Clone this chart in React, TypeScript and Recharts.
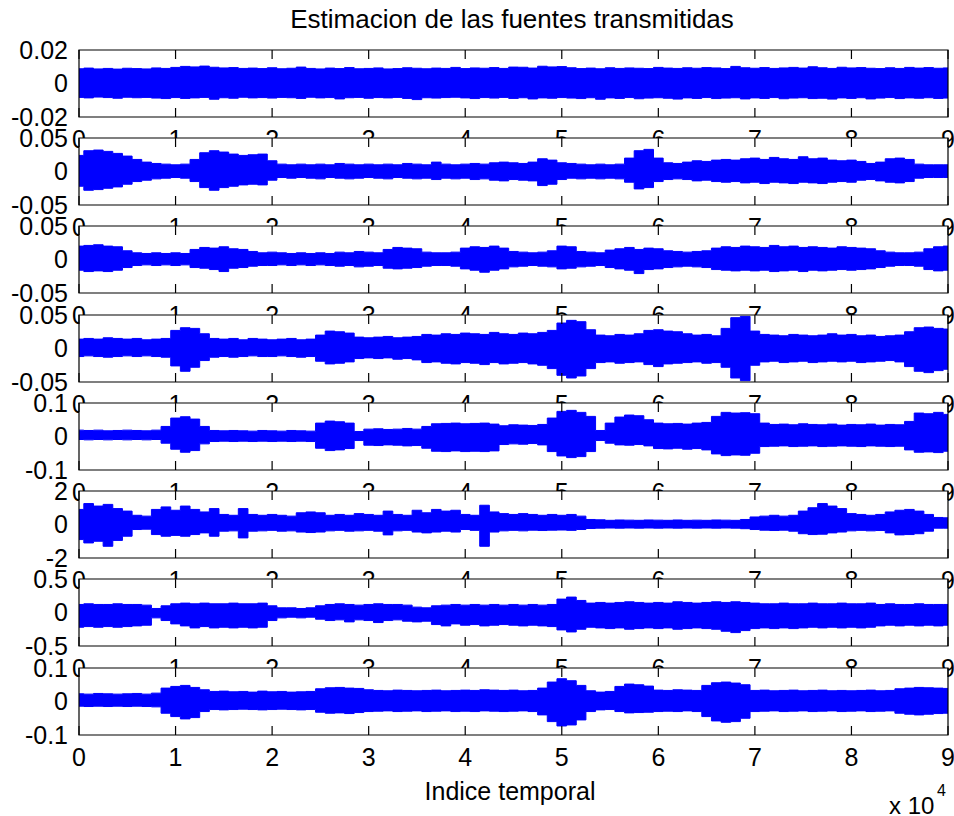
import React from "react"
import { ComposedChart, Area, XAxis, YAxis, CartesianGrid, ReferenceArea } from "recharts"

// envelope of each estimated source, read every 1000 samples (0 .. 90000)
const sampleIdx = Array.from({ length: 91 }, (_, k) => k * 1000)
const xTicks = [0, 10000, 20000, 30000, 40000, 50000, 60000, 70000, 80000, 90000]
const yLimits = [0.02, 0.05, 0.05, 0.05, 0.1, 2, 0.5, 0.1]

const hi1 = [0.0088,0.0092,0.0087,0.0090,0.0086,0.0091,0.0089,0.0087,0.0093,0.0090,
  0.0096,0.0102,0.0099,0.0104,0.0097,0.0093,0.0095,0.0090,0.0092,0.0089,
  0.0094,0.0088,0.0091,0.0098,0.0090,0.0087,0.0092,0.0089,0.0095,0.0088,
  0.0090,0.0093,0.0087,0.0089,0.0094,0.0091,0.0088,0.0092,0.0090,0.0096,
  0.0089,0.0093,0.0091,0.0095,0.0090,0.0098,0.0097,0.0092,0.0103,0.0099,
  0.0101,0.0094,0.0089,0.0092,0.0088,0.0094,0.0090,0.0093,0.0091,0.0089,
  0.0096,0.0092,0.0090,0.0094,0.0091,0.0095,0.0093,0.0089,0.0102,0.0094,
  0.0091,0.0095,0.0090,0.0093,0.0096,0.0092,0.0100,0.0094,0.0090,0.0097,
  0.0093,0.0095,0.0091,0.0089,0.0094,0.0090,0.0096,0.0092,0.0095,0.0091,0.0093]
const lo1 = [-0.0083,-0.0086,-0.0081,-0.0084,-0.0088,-0.0082,-0.0085,-0.0083,-0.0087,-0.0090,
  -0.0084,-0.0089,-0.0086,-0.0083,-0.0094,-0.0085,-0.0088,-0.0082,-0.0086,-0.0084,
  -0.0087,-0.0083,-0.0085,-0.0089,-0.0082,-0.0086,-0.0084,-0.0092,-0.0085,-0.0083,
  -0.0088,-0.0084,-0.0086,-0.0083,-0.0089,-0.0096,-0.0085,-0.0087,-0.0084,-0.0082,
  -0.0086,-0.0090,-0.0084,-0.0087,-0.0083,-0.0089,-0.0085,-0.0092,-0.0086,-0.0088,
  -0.0084,-0.0087,-0.0090,-0.0085,-0.0094,-0.0086,-0.0089,-0.0084,-0.0091,-0.0087,
  -0.0085,-0.0088,-0.0093,-0.0086,-0.0089,-0.0084,-0.0090,-0.0087,-0.0085,-0.0092,
  -0.0086,-0.0089,-0.0084,-0.0091,-0.0087,-0.0085,-0.0090,-0.0088,-0.0093,-0.0086,
  -0.0089,-0.0085,-0.0092,-0.0087,-0.0084,-0.0090,-0.0086,-0.0088,-0.0085,-0.0089,-0.0087]

const hi2 = [0.024,0.031,0.032,0.030,0.027,0.023,0.018,0.014,0.012,0.011,
  0.010,0.011,0.018,0.028,0.031,0.029,0.026,0.024,0.025,0.026,
  0.016,0.011,0.010,0.011,0.010,0.011,0.010,0.012,0.011,0.010,
  0.011,0.010,0.011,0.010,0.012,0.011,0.010,0.014,0.011,0.010,
  0.011,0.012,0.011,0.013,0.014,0.013,0.012,0.014,0.019,0.017,
  0.013,0.012,0.011,0.010,0.011,0.010,0.011,0.020,0.031,0.033,
  0.020,0.013,0.012,0.014,0.016,0.015,0.017,0.018,0.017,0.019,
  0.020,0.018,0.021,0.019,0.018,0.022,0.019,0.020,0.017,0.016,
  0.017,0.015,0.012,0.014,0.019,0.020,0.018,0.011,0.010,0.010,0.010]
const lo2 = [-0.022,-0.028,-0.027,-0.025,-0.023,-0.019,-0.015,-0.013,-0.011,-0.010,
  -0.009,-0.010,-0.015,-0.024,-0.028,-0.024,-0.022,-0.020,-0.019,-0.020,
  -0.013,-0.009,-0.010,-0.009,-0.010,-0.011,-0.009,-0.010,-0.011,-0.010,
  -0.009,-0.010,-0.011,-0.009,-0.010,-0.011,-0.010,-0.012,-0.010,-0.011,
  -0.010,-0.012,-0.011,-0.013,-0.014,-0.012,-0.013,-0.014,-0.021,-0.019,
  -0.012,-0.010,-0.011,-0.010,-0.011,-0.010,-0.011,-0.016,-0.026,-0.024,
  -0.015,-0.012,-0.011,-0.012,-0.014,-0.013,-0.015,-0.016,-0.015,-0.017,
  -0.016,-0.018,-0.016,-0.017,-0.018,-0.016,-0.017,-0.018,-0.016,-0.015,
  -0.016,-0.013,-0.012,-0.014,-0.016,-0.017,-0.015,-0.010,-0.009,-0.009,-0.009]

const hi3 = [0.020,0.021,0.022,0.020,0.019,0.013,0.010,0.009,0.010,0.009,
  0.010,0.009,0.015,0.018,0.017,0.019,0.016,0.015,0.012,0.010,
  0.011,0.010,0.009,0.010,0.009,0.010,0.009,0.011,0.010,0.012,
  0.011,0.010,0.015,0.018,0.017,0.016,0.011,0.010,0.010,0.011,
  0.017,0.019,0.018,0.020,0.017,0.012,0.011,0.010,0.011,0.013,
  0.020,0.019,0.012,0.011,0.010,0.014,0.016,0.018,0.015,0.017,
  0.016,0.013,0.012,0.011,0.012,0.013,0.017,0.019,0.018,0.020,
  0.019,0.018,0.021,0.019,0.020,0.018,0.019,0.018,0.017,0.019,
  0.018,0.017,0.016,0.013,0.011,0.010,0.010,0.011,0.016,0.019,0.020]
const lo3 = [-0.016,-0.018,-0.017,-0.018,-0.016,-0.012,-0.009,-0.008,-0.009,-0.008,
  -0.009,-0.008,-0.012,-0.013,-0.015,-0.018,-0.013,-0.012,-0.010,-0.009,
  -0.009,-0.008,-0.009,-0.008,-0.009,-0.008,-0.009,-0.010,-0.009,-0.011,
  -0.010,-0.009,-0.013,-0.014,-0.013,-0.012,-0.010,-0.009,-0.009,-0.010,
  -0.014,-0.016,-0.019,-0.016,-0.014,-0.011,-0.010,-0.009,-0.010,-0.011,
  -0.014,-0.013,-0.011,-0.010,-0.009,-0.012,-0.014,-0.016,-0.021,-0.015,
  -0.014,-0.012,-0.011,-0.010,-0.011,-0.012,-0.015,-0.016,-0.017,-0.016,
  -0.017,-0.016,-0.018,-0.017,-0.016,-0.018,-0.016,-0.017,-0.016,-0.015,
  -0.016,-0.015,-0.014,-0.012,-0.010,-0.009,-0.009,-0.010,-0.015,-0.017,-0.016]

const hi4 = [0.014,0.015,0.014,0.016,0.015,0.014,0.015,0.013,0.014,0.015,
  0.027,0.031,0.030,0.022,0.015,0.014,0.015,0.013,0.015,0.014,
  0.013,0.014,0.015,0.013,0.014,0.020,0.026,0.025,0.023,0.017,
  0.016,0.017,0.018,0.016,0.017,0.018,0.021,0.020,0.022,0.021,
  0.023,0.022,0.021,0.024,0.022,0.021,0.023,0.022,0.024,0.027,
  0.038,0.042,0.040,0.028,0.020,0.019,0.021,0.020,0.022,0.027,
  0.028,0.026,0.025,0.022,0.020,0.021,0.019,0.030,0.046,0.048,
  0.026,0.021,0.020,0.019,0.021,0.020,0.019,0.020,0.022,0.020,
  0.021,0.019,0.020,0.018,0.019,0.020,0.025,0.031,0.032,0.030,0.029]
const lo4 = [-0.012,-0.011,-0.012,-0.013,-0.012,-0.011,-0.012,-0.011,-0.012,-0.013,
  -0.026,-0.034,-0.028,-0.018,-0.013,-0.012,-0.013,-0.012,-0.011,-0.012,
  -0.012,-0.011,-0.012,-0.013,-0.012,-0.019,-0.023,-0.022,-0.020,-0.015,
  -0.014,-0.015,-0.014,-0.016,-0.015,-0.017,-0.021,-0.020,-0.022,-0.023,
  -0.021,-0.022,-0.024,-0.021,-0.023,-0.022,-0.021,-0.023,-0.025,-0.030,
  -0.040,-0.044,-0.041,-0.030,-0.021,-0.020,-0.022,-0.021,-0.020,-0.024,
  -0.027,-0.023,-0.022,-0.021,-0.020,-0.022,-0.021,-0.028,-0.044,-0.048,
  -0.025,-0.020,-0.019,-0.021,-0.020,-0.019,-0.021,-0.020,-0.019,-0.020,
  -0.019,-0.021,-0.020,-0.019,-0.018,-0.020,-0.027,-0.034,-0.036,-0.033,-0.031]

const hi5 = [0.019,0.018,0.019,0.017,0.018,0.019,0.018,0.017,0.019,0.030,
  0.055,0.059,0.052,0.030,0.018,0.017,0.018,0.017,0.016,0.018,
  0.017,0.016,0.018,0.017,0.016,0.040,0.046,0.044,0.040,0.015,
  0.022,0.023,0.021,0.022,0.024,0.022,0.030,0.038,0.039,0.040,
  0.038,0.039,0.040,0.037,0.032,0.035,0.034,0.033,0.036,0.055,
  0.075,0.078,0.072,0.060,0.018,0.040,0.058,0.064,0.062,0.050,
  0.040,0.038,0.039,0.037,0.040,0.042,0.060,0.072,0.070,0.071,
  0.068,0.040,0.036,0.037,0.035,0.038,0.036,0.035,0.037,0.034,
  0.036,0.035,0.037,0.034,0.036,0.035,0.045,0.070,0.068,0.072,0.066]
const lo5 = [-0.009,-0.010,-0.009,-0.010,-0.009,-0.010,-0.009,-0.010,-0.009,-0.020,
  -0.038,-0.047,-0.042,-0.022,-0.015,-0.014,-0.015,-0.014,-0.015,-0.014,
  -0.015,-0.014,-0.015,-0.014,-0.015,-0.035,-0.042,-0.040,-0.036,-0.012,
  -0.026,-0.027,-0.025,-0.026,-0.028,-0.027,-0.035,-0.044,-0.045,-0.043,
  -0.045,-0.044,-0.045,-0.043,-0.024,-0.022,-0.023,-0.021,-0.025,-0.045,
  -0.058,-0.063,-0.060,-0.045,-0.012,-0.020,-0.025,-0.026,-0.024,-0.028,
  -0.036,-0.037,-0.035,-0.038,-0.036,-0.040,-0.052,-0.057,-0.055,-0.056,
  -0.050,-0.030,-0.029,-0.028,-0.030,-0.029,-0.028,-0.030,-0.029,-0.028,
  -0.029,-0.030,-0.028,-0.029,-0.030,-0.029,-0.040,-0.047,-0.046,-0.048,-0.044]

const hi6 = [0.9,1.25,1.1,1.2,0.95,0.8,0.55,0.5,0.9,1.05,
  0.85,1.1,0.9,0.75,0.95,0.6,0.55,0.95,0.6,0.55,
  0.6,0.55,0.5,0.7,0.75,0.7,0.55,0.6,0.55,0.65,
  0.6,0.55,0.8,0.6,0.55,0.85,0.7,0.9,0.8,0.85,
  0.6,0.55,1.15,0.75,0.65,0.6,0.65,0.6,0.55,0.6,
  0.55,0.6,0.5,0.3,0.28,0.25,0.27,0.26,0.25,0.27,
  0.26,0.25,0.27,0.25,0.26,0.25,0.27,0.26,0.25,0.3,
  0.45,0.5,0.55,0.5,0.55,0.8,1.0,1.25,1.1,0.95,
  0.65,0.6,0.55,0.6,0.75,0.85,0.9,0.8,0.6,0.42,0.4]
const lo6 = [-0.9,-1.1,-1.0,-1.3,-0.95,-0.7,-0.3,-0.28,-0.6,-0.7,
  -0.65,-0.7,-0.6,-0.5,-0.7,-0.4,-0.38,-0.8,-0.4,-0.38,
  -0.35,-0.4,-0.38,-0.45,-0.48,-0.45,-0.38,-0.35,-0.4,-0.38,
  -0.35,-0.4,-0.62,-0.38,-0.35,-0.45,-0.5,-0.45,-0.4,-0.45,
  -0.3,-0.35,-1.3,-0.45,-0.38,-0.35,-0.38,-0.34,-0.36,-0.34,
  -0.33,-0.35,-0.3,-0.24,-0.22,-0.21,-0.22,-0.21,-0.22,-0.21,
  -0.22,-0.21,-0.22,-0.21,-0.22,-0.21,-0.22,-0.21,-0.22,-0.25,
  -0.3,-0.34,-0.36,-0.34,-0.4,-0.55,-0.6,-0.58,-0.5,-0.45,
  -0.38,-0.35,-0.38,-0.36,-0.5,-0.62,-0.6,-0.55,-0.4,-0.22,-0.22]

const hi7 = [0.12,0.13,0.12,0.12,0.13,0.12,0.12,0.11,0.06,0.10,
  0.13,0.14,0.13,0.14,0.13,0.13,0.14,0.13,0.13,0.14,
  0.10,0.07,0.07,0.06,0.07,0.10,0.12,0.13,0.12,0.11,
  0.12,0.13,0.12,0.12,0.11,0.08,0.07,0.10,0.11,0.12,
  0.11,0.12,0.11,0.12,0.11,0.12,0.11,0.12,0.11,0.12,
  0.20,0.23,0.18,0.14,0.15,0.14,0.15,0.16,0.15,0.14,
  0.15,0.14,0.16,0.15,0.14,0.15,0.16,0.15,0.16,0.15,
  0.14,0.13,0.13,0.14,0.13,0.13,0.14,0.13,0.13,0.14,
  0.13,0.13,0.14,0.12,0.13,0.12,0.12,0.13,0.12,0.12,0.12]
const lo7 = [-0.22,-0.21,-0.22,-0.21,-0.22,-0.21,-0.20,-0.19,-0.08,-0.12,
  -0.17,-0.20,-0.23,-0.21,-0.23,-0.22,-0.23,-0.22,-0.23,-0.22,
  -0.12,-0.08,-0.07,-0.08,-0.07,-0.10,-0.12,-0.11,-0.14,-0.11,
  -0.12,-0.15,-0.12,-0.11,-0.13,-0.14,-0.13,-0.18,-0.20,-0.17,
  -0.19,-0.18,-0.20,-0.19,-0.18,-0.19,-0.20,-0.19,-0.20,-0.21,
  -0.26,-0.29,-0.25,-0.22,-0.23,-0.24,-0.23,-0.25,-0.24,-0.23,
  -0.24,-0.23,-0.25,-0.24,-0.23,-0.24,-0.25,-0.28,-0.30,-0.27,
  -0.24,-0.23,-0.24,-0.23,-0.24,-0.23,-0.22,-0.23,-0.22,-0.23,
  -0.22,-0.23,-0.22,-0.20,-0.19,-0.20,-0.19,-0.20,-0.19,-0.20,-0.19]

const hi8 = [0.023,0.022,0.024,0.023,0.022,0.023,0.024,0.022,0.025,0.040,
  0.045,0.048,0.042,0.035,0.030,0.031,0.029,0.030,0.028,0.031,
  0.029,0.030,0.028,0.029,0.030,0.038,0.041,0.042,0.040,0.039,
  0.035,0.033,0.032,0.034,0.033,0.032,0.033,0.034,0.032,0.033,
  0.034,0.033,0.035,0.034,0.033,0.034,0.032,0.033,0.040,0.058,
  0.068,0.062,0.048,0.032,0.028,0.030,0.045,0.052,0.050,0.046,
  0.034,0.033,0.035,0.034,0.033,0.048,0.056,0.058,0.055,0.050,
  0.033,0.034,0.032,0.033,0.034,0.032,0.033,0.034,0.032,0.033,
  0.032,0.033,0.034,0.032,0.033,0.038,0.040,0.042,0.041,0.040,0.039]
const lo8 = [-0.014,-0.015,-0.014,-0.015,-0.014,-0.015,-0.014,-0.015,-0.016,-0.035,
  -0.045,-0.052,-0.048,-0.030,-0.024,-0.025,-0.024,-0.023,-0.024,-0.025,
  -0.024,-0.023,-0.024,-0.025,-0.024,-0.032,-0.035,-0.034,-0.036,-0.033,
  -0.030,-0.029,-0.028,-0.030,-0.029,-0.028,-0.030,-0.029,-0.028,-0.030,
  -0.029,-0.030,-0.028,-0.029,-0.030,-0.029,-0.028,-0.030,-0.040,-0.060,
  -0.073,-0.070,-0.055,-0.030,-0.025,-0.024,-0.030,-0.034,-0.033,-0.032,
  -0.030,-0.029,-0.030,-0.028,-0.030,-0.045,-0.058,-0.062,-0.060,-0.050,
  -0.030,-0.029,-0.028,-0.030,-0.029,-0.028,-0.030,-0.029,-0.028,-0.030,
  -0.029,-0.028,-0.030,-0.029,-0.028,-0.035,-0.038,-0.040,-0.038,-0.036,-0.035]

const highs = [hi1, hi2, hi3, hi4, hi5, hi6, hi7, hi8]
const lows = [lo1, lo2, lo3, lo4, lo5, lo6, lo7, lo8]

const W = 954
const H = 816
const FONT = "'Liberation Sans', Arial, Helvetica, sans-serif"
const BLUE = "#0000ff"
const plotTops = [50, 138, 226, 315, 403, 491, 579, 668]
const PLOT_H = 67
const PAD_TOP = 22
const AXIS_H = 42

function XTick(props: any) {
  const { x, y, payload } = props
  return (
    <g>
      <line x1={x} y1={y} x2={x} y2={y - 9} stroke="#000" strokeWidth={1.2} />
      <line x1={x} y1={y - PLOT_H} x2={x} y2={y - PLOT_H + 9} stroke="#000" strokeWidth={1.2} />
      <text x={x} y={y + 31} textAnchor="middle" fontSize={25} fontFamily={FONT} fill="#000">
        {payload.value / 10000}
      </text>
    </g>
  )
}

function Subplot({ idx }: { idx: number }) {
  const lim = yLimits[idx]
  const rows = sampleIdx.map((x, k) => ({ x, band: [lows[idx][k], highs[idx][k]] }))
  return (
    <div style={{ position: "absolute", left: 0, top: plotTops[idx] - PAD_TOP, width: W, height: PAD_TOP + PLOT_H + AXIS_H }}>
      <ComposedChart
        width={W}
        height={PAD_TOP + PLOT_H + AXIS_H}
        data={rows}
        margin={{ top: PAD_TOP, right: 6, left: 0, bottom: 0 }}
      >
        <CartesianGrid fill="#ffffff" horizontal={false} vertical={false} />
        <XAxis
          dataKey="x"
          type="number"
          domain={[0, 90000]}
          ticks={xTicks}
          interval={0}
          height={AXIS_H}
          axisLine={false}
          tickLine={false}
          tickSize={0}
          tickMargin={0}
          tick={<XTick />}
          allowDataOverflow
        />
        <YAxis
          type="number"
          domain={[-lim, lim]}
          ticks={[-lim, 0, lim]}
          width={79}
          axisLine={false}
          tickLine={false}
          tickSize={0}
          tickMargin={11}
          interval={0}
          allowDataOverflow
          tick={{ fontSize: 25, fill: "#000", fontFamily: FONT }}
        />
        <Area
          dataKey="band"
          type="step"
          stroke={BLUE}
          strokeWidth={1}
          fill={BLUE}
          fillOpacity={1}
          dot={false}
          activeDot={false}
          isAnimationActive={false}
        />
        <ReferenceArea x1={0} x2={90000} y1={-lim} y2={lim} fill="none" stroke="#000" strokeWidth={1.2} ifOverflow="visible" />
      </ComposedChart>
    </div>
  )
}

export default function App() {
  return (
    <div style={{ position: "absolute", left: 0, top: 0, width: W, height: H, background: "#fff", overflow: "hidden", fontFamily: FONT }}>
      <svg width={W} height={H} style={{ position: "absolute", left: 0, top: 0 }}>
        <text x={512} y={28} textAnchor="middle" fontSize={26} fontFamily={FONT} fill="#000">
          Estimacion de las fuentes transmitidas
        </text>
        <text x={510} y={800} textAnchor="middle" fontSize={25} fontFamily={FONT} fill="#000">
          Indice temporal
        </text>
        <text x={889} y={814} fontSize={24} fontFamily={FONT} fill="#000">
          x 10
        </text>
        <text x={937} y={796} fontSize={16} fontFamily={FONT} fill="#000">
          4
        </text>
      </svg>
      {yLimits.map((_, i) => (
        <Subplot key={i} idx={i} />
      ))}
    </div>
  )
}
